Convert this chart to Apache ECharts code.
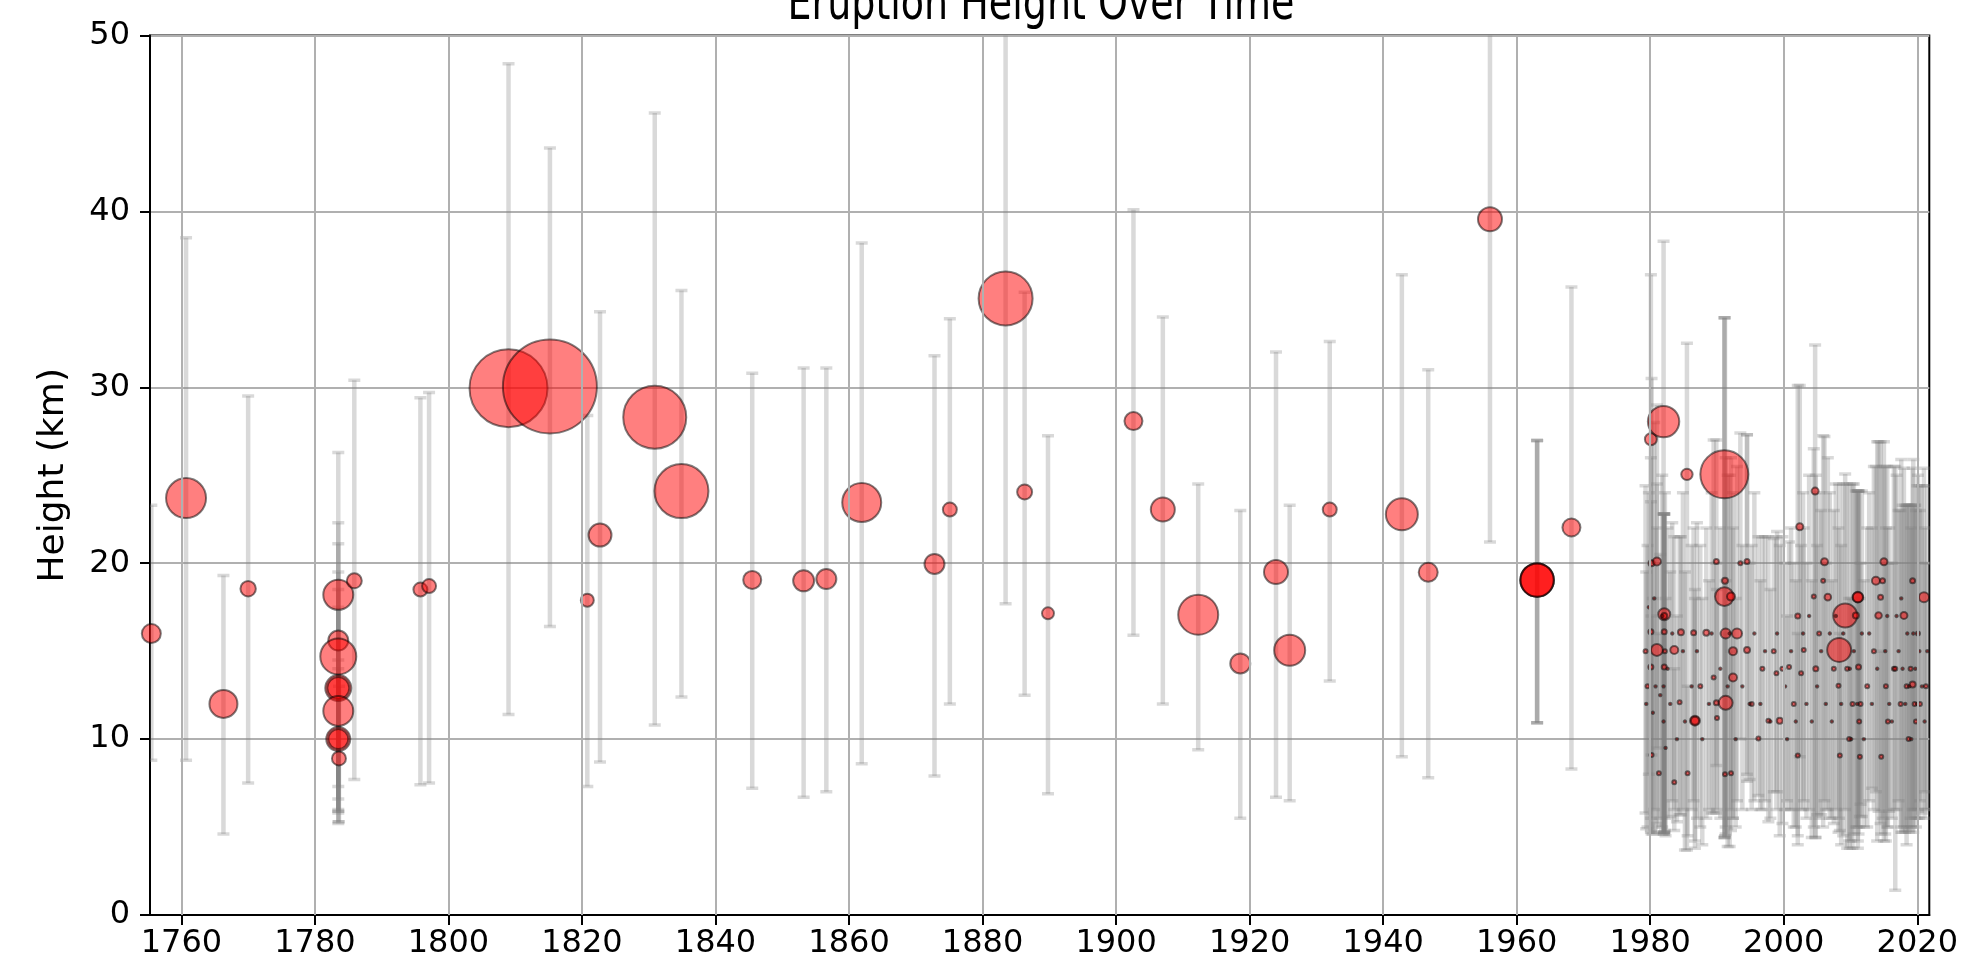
<!DOCTYPE html>
<html><head><meta charset="utf-8">
<script src="https://cdn.jsdelivr.net/npm/echarts@6/dist/echarts.min.js"></script>
<style>html,body{margin:0;padding:0;background:#fff}#c{width:1961px;height:963px}</style>
</head><body><div id="c"></div><script>
// tick values
const xTickYears = [1760,1780,1800,1820,1840,1860,1880,1900,1920,1940,1960,1980,2000,2020];
const yTickValues = [0,10,20,30,40,50];
// [year, height km, lower bound km, upper bound km, bubble magnitude]
const historicEruptions = [
  [1755.5,16.0,8.8,23.3,9.5],
  [1760.7,23.7,8.8,38.5,20],
  [1766.3,12.0,4.6,19.3,14],
  [1770.0,18.55,7.5,29.5,7.7],
  [1783.5,18.2,7.3,26.3,15],
  [1783.5,15.6,6.6,22.3,10],
  [1783.5,14.7,5.9,21.1,18],
  [1783.5,12.9,5.3,19.5,13],
  [1783.5,12.9,5.8,18.5,11],
  [1783.5,11.6,5.9,17.5,15],
  [1783.5,10.0,6.0,14.5,12],
  [1783.5,10.0,5.2,14.0,10],
  [1783.6,8.9,5.3,13.0,7],
  [1785.9,19.0,7.7,30.4,7.5],
  [1795.8,18.5,7.4,29.4,7],
  [1797.1,18.7,7.5,29.7,7],
  [1809.0,29.95,11.4,48.4,39],
  [1815.2,30.05,16.4,43.6,47],
  [1820.8,17.9,7.3,28.4,6.5],
  [1822.7,21.6,8.7,34.3,11.5],
  [1830.9,28.3,10.8,45.6,31.5],
  [1834.9,24.1,12.4,35.5,27],
  [1845.5,19.05,7.2,30.8,9],
  [1853.2,19.0,6.7,31.1,10.5],
  [1856.6,19.1,7.0,31.1,10],
  [1861.9,23.45,8.6,38.2,19.5],
  [1872.8,19.96,7.9,31.8,10],
  [1875.1,23.05,12.0,33.9,7],
  [1883.45,35.05,17.7,52.0,27],
  [1886.3,24.05,12.5,35.4,7.5],
  [1889.8,17.15,6.9,27.25,6],
  [1902.6,28.08,15.9,40.1,9],
  [1907.0,23.05,12.0,34.0,12],
  [1912.3,17.07,9.4,24.5,20],
  [1918.6,14.3,5.5,23.0,10],
  [1923.95,19.5,6.7,32.0,12],
  [1926.0,15.05,6.5,23.3,15.5],
  [1932.0,23.05,13.3,32.6,7],
  [1942.8,22.78,9.0,36.4,16],
  [1946.75,19.48,7.8,31.0,9.5],
  [1956.0,39.55,21.2,57.0,12],
  [1963.06,19.04,10.93,26.98,16.7],
  [1963.06,19.04,10.93,26.98,16.7],
  [1963.06,19.04,10.93,26.98,16.7],
  [1968.2,22.03,8.3,35.7,9]
];
const modernEruptions = [
  [1979.3,15.0,5.8,24.4,2],[1979.6,13.0,5.0,21.0,2],[1980.1,27.05,4.7,36.4,6],
  [1980.2,20.0,9.1,30.5,3],[1980.1,16.1,5.5,26.0,2.5],[1980.1,14.1,4.8,23.5,2.5],
  [1980.2,9.1,4.6,17.0,2],[1981.0,20.1,9.5,29.0,4],[1981.0,15.07,5.2,24.5,6],
  [1981.3,8.06,5.0,16.0,2],[1982.0,28.05,4.7,38.3,15.7],[1982.1,17.1,4.7,22.8,6],
  [1982.1,17.0,4.7,22.8,3],[1982.1,16.1,4.7,22.8,2.5],[1982.1,14.1,4.6,22.8,2.5],
  [1982.2,15.0,4.8,24.0,2],[1983.6,15.07,6.0,21.5,4],[1983.6,7.55,4.8,14.0,2],
  [1984.4,12.1,5.7,21.5,2],[1984.6,16.08,5.7,21.5,3],[1985.5,25.05,3.7,32.5,5.7],
  [1985.6,8.06,4.5,13.0,2],[1986.7,11.05,3.8,18.5,5],[1986.7,11.05,4.2,18.0,4],
  [1986.5,16.04,6.5,22.0,2.5],[1987.5,13.0,5.0,21.0,2],[1988.4,16.04,5.5,22.0,3],
  [1989.5,13.5,5.8,27.0,2],[1989.9,20.1,8.5,27.0,2.5],[1989.9,12.06,5.8,20.0,2.5],
  [1990.0,11.2,6.0,18.5,2],[1991.1,25.05,4.4,33.95,24],[1991.1,18.1,4.4,33.95,9.3],
  [1991.2,19.0,4.4,33.95,3],[1991.3,16.0,4.6,26.0,5],[1991.3,12.06,5.0,19.0,7],
  [1991.2,8.0,4.5,16.0,2],[1992.1,18.1,6.0,26.0,4],[1992.4,15.0,5.5,24.0,4],
  [1992.4,13.5,5.5,22.0,4],[1992.1,8.06,4.8,15.0,2],[1993.0,16.0,6.5,25.5,5],
  [1993.5,20.0,10.0,27.4,2],[1994.5,20.1,8.0,27.3,2.5],[1994.5,15.07,7.6,27.3,3],
  [1995.2,12.0,6.0,21.0,2],[1996.2,10.03,6.8,21.5,2],[1996.8,14.0,6.0,21.5,2],
  [1997.7,11.05,5.3,21.5,2],[1998.5,15.0,7.0,21.4,2],[1998.9,13.75,6.0,21.5,2],
  [1999.4,11.05,4.5,21.0,3],[1999.8,14.0,5.2,21.5,2],[2000.8,14.1,6.0,21.2,2],
  [2001.5,12.0,5.0,20.0,2],[2002.1,17.0,4.0,30.1,2.5],[2002.4,22.07,9.0,30.1,3.5],
  [2002.6,13.75,6.0,21.0,2],[2002.1,9.07,4.5,16.0,2],[2003.0,15.07,6.5,22.0,2],
  [2004.5,18.1,5.0,26.5,2],[2004.7,24.1,4.4,32.4,3.5],[2004.8,14.0,4.4,25.0,2.5],
  [2005.3,16.0,5.5,24.0,2],[2005.9,19.0,5.0,27.25,2],[2006.1,20.08,6.5,27.2,3.5],
  [2006.6,18.07,6.0,26.0,3.3],[2007.5,14.0,5.2,23.0,2],[2008.2,13.04,4.7,22.0,2],
  [2008.3,15.07,5.5,24.5,12],[2008.4,9.07,4.8,16.0,2],[2009.2,17.03,6.0,25.07,12],
  [2009.5,14.0,3.8,24.5,2],[2009.8,10.0,4.2,18.0,2],[2010.3,12.0,3.8,24.5,2],
  [2010.8,17.03,5.0,24.1,3],[2011.1,18.07,3.8,24.1,5.3],[2011.1,18.07,4.2,24.1,5],
  [2011.2,14.1,4.6,24.1,2.5],[2011.3,11.0,5.0,24.1,2],[2011.4,9.0,5.6,18.0,2],
  [2011.5,12.0,6.3,20.0,2],[2012.5,13.0,5.0,22.0,2],[2013.5,15.0,6.0,25.5,2],
  [2013.8,19.0,7.0,25.5,4],[2014.2,17.03,5.9,26.9,3.3],[2014.5,18.07,5.2,26.9,2.5],
  [2014.6,9.0,4.6,15.0,2],[2014.8,19.0,5.5,25.5,2.5],[2015.0,20.08,4.2,26.9,3.5],
  [2015.3,13.0,4.2,22.0,2],[2015.6,11.0,5.0,20.0,2],[2016.5,14.0,6.0,25.5,2],
  [2016.7,14.0,1.4,25.5,2],[2017.5,12.0,5.0,23.0,2],[2018.0,17.03,5.0,25.4,3.5],
  [2018.4,13.0,4.0,23.3,2],[2018.7,10.0,4.8,23.3,2],[2019.0,14.0,5.5,23.3,2],
  [2019.3,19.0,6.0,25.4,2.5],[2019.3,13.1,5.0,23.3,3],[2019.6,12.0,6.0,23.3,2],
  [2019.8,11.0,5.0,23.0,2],[2020.1,16.0,6.0,25.0,2],[2020.4,12.0,6.5,23.0,2],
  [2021.0,18.07,7.0,25.4,5],[2021.3,13.0,6.0,20.0,2]
];
const minorEruptions = [
  [1979.4,12.0,4.9,19.5,1.2],[1979.8,17.5,8.0,24.0,1.2],[1980.4,11.5,4.6,18.0,1.2],
  [1980.6,18.0,6.0,28.0,1.2],[1980.8,13.0,4.7,22.0,1.2],[1981.5,12.5,5.5,20.5,1.2],
  [1981.8,17.0,5.0,25.0,1.2],[1982.0,13.0,4.6,22.8,1.2],[1982.0,11.0,4.6,22.8,1.2],
  [1982.3,9.5,4.5,18.0,1.2],[1982.6,14.0,5.5,22.0,1.2],[1983.0,12.0,5.6,19.5,1.2],
  [1983.3,16.0,6.5,22.3,1.2],[1984.0,10.0,5.3,17.0,1.2],[1984.9,15.0,6.0,24.0,1.2],
  [1985.2,11.0,3.7,19.5,1.2],[1986.2,13.0,6.0,21.0,1.2],[1987.0,15.0,5.5,22.3,1.2],
  [1987.8,10.0,4.0,18.0,1.2],[1988.8,12.0,6.0,19.0,1.2],[1989.2,16.0,5.8,24.0,1.2],
  [1990.5,14.0,5.5,22.0,1.2],[1991.6,13.0,3.9,25.0,1.2],[1991.9,16.0,3.9,25.0,1.2],
  [1992.8,10.0,5.0,18.0,1.2],[1993.8,13.0,6.0,21.0,1.2],[1994.9,12.0,7.7,20.0,1.2],
  [1995.6,16.0,6.5,24.0,1.2],[1996.5,12.0,6.0,19.0,1.2],[1997.2,15.0,6.5,21.5,1.2],
  [1998.0,11.0,5.5,18.5,1.2],[1999.0,16.0,7.0,21.8,1.2],[2000.2,13.0,6.0,20.0,1.2],
  [2000.5,10.0,6.5,17.0,1.2],[2001.1,15.0,6.0,22.0,1.2],[2001.8,11.0,5.0,19.0,1.2],
  [2002.9,16.0,6.0,24.0,1.2],[2003.4,12.0,5.5,20.0,1.2],[2003.8,17.0,6.0,25.0,1.2],
  [2004.2,11.0,4.4,19.0,1.2],[2005.0,13.0,5.7,21.0,1.2],[2005.6,15.0,5.7,23.0,1.2],
  [2006.3,12.0,6.0,20.0,1.2],[2006.9,16.0,5.5,24.0,1.2],[2007.2,11.0,5.5,19.0,1.2],
  [2007.8,17.0,6.0,24.5,1.2],[2008.6,12.0,4.0,21.0,1.2],[2008.9,16.0,4.5,24.5,1.2],
  [2009.9,14.0,3.8,24.5,1.2],[2010.1,10.0,4.2,18.0,1.2],[2010.5,15.0,4.6,24.5,1.2],
  [2011.0,12.0,5.0,24.1,1.2],[2011.7,16.0,5.6,24.1,1.2],[2012.0,10.0,5.0,19.0,1.2],
  [2012.8,16.0,6.5,24.0,1.2],[2013.2,12.0,7.2,22.0,1.2],[2014.0,14.0,4.2,26.9,1.2],
  [2015.2,15.0,4.6,25.5,1.2],[2015.5,17.0,5.0,25.5,1.2],[2015.8,12.0,5.9,22.0,1.2],
  [2016.2,11.0,5.5,20.0,1.2],[2016.9,17.0,6.0,25.0,1.2],[2017.2,15.0,6.5,23.0,1.2],
  [2017.6,18.0,4.7,25.9,1.2],[2017.8,14.0,4.7,23.3,1.2],[2018.2,12.0,4.7,23.3,1.2],
  [2018.5,16.0,5.0,23.3,1.2],[2018.8,13.0,4.7,23.3,1.2],[2019.1,10.0,5.0,22.0,1.2],
  [2019.4,16.0,4.7,25.9,1.2],[2019.7,14.0,5.5,23.3,1.2],[2020.0,12.0,5.5,24.4,1.2],
  [2020.3,15.0,5.5,24.4,1.2],[2020.7,13.0,5.8,24.4,1.2],[2021.1,11.0,5.5,22.0,1.2],
  [2021.5,15.0,6.0,24.4,1.2]
];
const eruptions = historicEruptions.concat(modernEruptions, minorEruptions);

const chart = echarts.init(document.getElementById('c'), null, {renderer: 'canvas'});
const FONT = '"DejaVu Sans", "Liberation Sans", sans-serif';
const capHalf = 6;
const option = {
  animation: false,
  backgroundColor: '#fff',
  grid: {left: 150, right: 29, top: 35.5, bottom: 48, show: true, borderColor: '#000', borderWidth: 2, backgroundColor: 'transparent'},
  graphic: [
    {type: 'text', x: 1041, y: 6, scaleY: 1.3, z: 10,
     style: {text: 'Eruption Height Over Time', font: '38px ' + FONT, fill: '#000', align: 'center', verticalAlign: 'middle'}}
  ],
  xAxis: {
    type: 'value', min: 1755.3, max: 2021.8,
    axisLine: {show: true, onZero: false, lineStyle: {color: '#000', width: 2}},
    axisTick: {show: true, customValues: xTickYears, length: 10, lineStyle: {color: '#000', width: 2}},
    axisLabel: {customValues: xTickYears, formatter: v => String(v), fontSize: 32, color: '#000', margin: 13, fontFamily: FONT},
    splitLine: {show: false}
  },
  yAxis: {
    type: 'value', min: 0, max: 50, interval: 10,
    name: 'Height (km)', nameLocation: 'middle', nameGap: 78,
    nameTextStyle: {fontSize: 36, color: '#000', fontFamily: FONT},
    axisLine: {show: true, onZero: false, lineStyle: {color: '#000', width: 2}},
    axisTick: {show: true, length: 10, lineStyle: {color: '#000', width: 2}},
    axisLabel: {formatter: v => String(v), fontSize: 32, color: '#000', margin: 20, fontFamily: FONT},
    splitLine: {show: true, lineStyle: {color: '#b0b0b0', width: 2}}
  },
  series: [
    {
      type: 'line', data: [], z: 1, silent: true,
      markLine: {
        silent: true, symbol: 'none', label: {show: false},
        lineStyle: {color: '#b0b0b0', width: 2, type: 'solid'},
        data: xTickYears.map(v => ({xAxis: v}))
      }
    },
    {
      type: 'custom', z: 2, clip: true, silent: true,
      data: eruptions.map(e => [e[0], e[2], e[3]]),
      encode: {x: 0, y: [1, 2]},
      renderItem: function (params, api) {
        const x = api.value(0);
        const lo = api.coord([x, api.value(1)]);
        const hi = api.coord([x, api.value(2)]);
        const col = 'rgba(128,128,128,0.3)';
        return {type: 'group', children: [
          {type: 'line', shape: {x1: lo[0], y1: lo[1], x2: hi[0], y2: hi[1]}, style: {stroke: col, lineWidth: 4.5}},
          {type: 'line', shape: {x1: lo[0] - capHalf, y1: lo[1], x2: lo[0] + capHalf, y2: lo[1]}, style: {stroke: col, lineWidth: 3.5}},
          {type: 'line', shape: {x1: hi[0] - capHalf, y1: hi[1], x2: hi[0] + capHalf, y2: hi[1]}, style: {stroke: col, lineWidth: 3.5}}
        ]};
      }
    },
    {
      type: 'scatter', z: 3, silent: true, clip: true,
      data: eruptions.map(e => [e[0], e[1], e[4]]),
      symbolSize: v => v[2] * 2,
      itemStyle: {color: 'rgba(255,0,0,0.5)', borderColor: 'rgba(0,0,0,0.5)', borderWidth: 2, opacity: 1}
    }
  ]
};
chart.setOption(option);
</script></body></html>
